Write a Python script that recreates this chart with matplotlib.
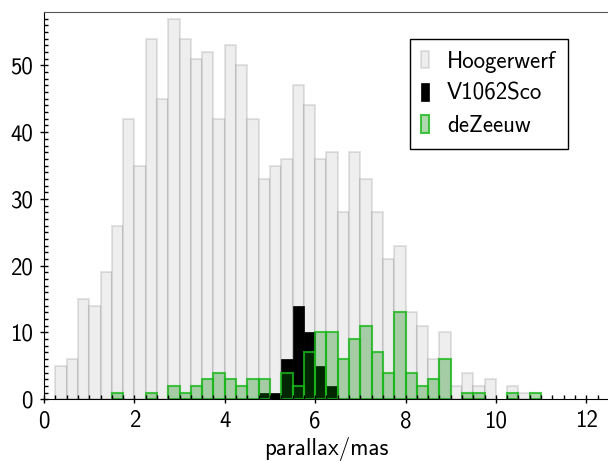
import numpy as np
import matplotlib
matplotlib.use("Agg")
import matplotlib.pyplot as plt

plt.rcParams['font.family'] = ['cmss10', 'DejaVu Sans']
plt.rcParams['axes.unicode_minus'] = False
plt.rcParams['axes.formatter.use_mathtext'] = False

# histogram counts per 0.25 mas bin, starting at 0
bin_width = 0.25
hoogerwerf = [0, 5, 6, 15, 14, 19, 26, 42, 35, 54, 45, 57, 54, 51, 52, 42,
              53, 50, 42, 33, 35, 36, 47, 44, 36, 37, 28, 37, 33, 28, 21, 23,
              13, 11, 6, 10, 2, 4, 2, 3, 0, 2, 1, 0]
v1062sco = [0] * 19 + [1, 1, 6, 14, 10, 5, 2] + [0] * 18
dezeeuw = [0, 0, 0, 0, 0, 0, 1, 0, 0, 1, 0, 2, 1, 2, 3, 4,
           3, 2, 3, 3, 0, 4, 2, 7, 10, 10, 6, 9, 11, 7, 4, 13,
           4, 2, 3, 6, 0, 1, 1, 0, 0, 1, 0, 1]

lefts = np.arange(len(hoogerwerf)) * bin_width


def draw(ax, counts, **kw):
    counts = np.asarray(counts)
    keep = counts > 0
    return ax.bar(lefts[keep], counts[keep], width=bin_width, align='edge', **kw)


fig = plt.figure(figsize=(6.08, 4.61), dpi=100)
ax = fig.add_axes([0.0724, 0.134, 0.929, 0.840])

draw(ax, hoogerwerf, facecolor='#eeeeee', edgecolor=(0, 0, 0, 0.1),
     linewidth=1.5, label='Hoogerwerf')
draw(ax, v1062sco, facecolor='black', edgecolor='black', linewidth=0.5,
     label='V1062Sco')
draw(ax, dezeeuw, facecolor=(0, 0.5, 0, 0.3), edgecolor=(0.1, 0.72, 0.1, 0.8),
     linewidth=1.5, label='deZeeuw')

ax.set_xlim(0, 12.5)
ax.set_ylim(0, 58)
ax.set_xticks([0, 2, 4, 6, 8, 10, 12])
ax.set_xticks(np.arange(0, 12.5, 0.25), minor=True)
ax.set_yticks([0, 10, 20, 30, 40, 50])
ax.set_yticks(np.arange(0, 58, 1), minor=True)
ax.tick_params(which='major', direction='inout', length=6, width=1,
               labelsize=16.5, pad=5)
ax.tick_params(which='minor', direction='in', length=3, width=1)
ax.spines['right'].set_visible(False)
ax.spines['top'].set_color('#555555')
ax.set_xlabel('parallax/mas', fontsize=16.5, labelpad=3)

leg = ax.legend(loc='upper right', bbox_to_anchor=(0.927, 0.930),
                borderaxespad=0, fontsize=16.5, fancybox=False,
                edgecolor='black', framealpha=1, handlelength=0.33,
                handleheight=0.8, handletextpad=0.8, labelspacing=0.45,
                borderpad=0.5)
leg.get_frame().set_linewidth(1)

fig.savefig('out.png', dpi=100)
